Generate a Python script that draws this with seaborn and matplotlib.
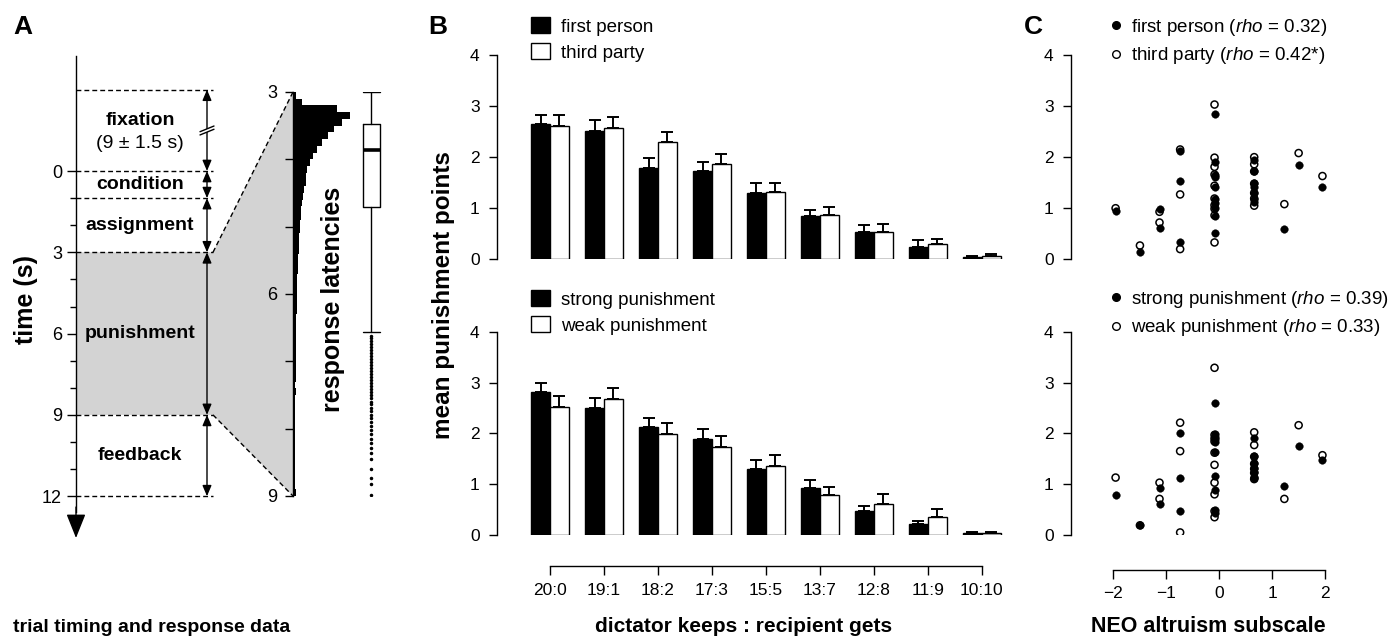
import numpy as np
import pandas as pd
import matplotlib
matplotlib.use("Agg")
import matplotlib.pyplot as plt
import seaborn as sns
from matplotlib.lines import Line2D
from matplotlib.patches import Patch, Polygon

# ─────────────────────────────────────────────
# DATA
# ─────────────────────────────────────────────
# Panel A: trial timeline (s)
PHASES      = ["fixation", "condition", "assignment", "punishment", "feedback"]
PHASE_EDGES = [-3, 0, 1, 3, 9, 12]
FIX_NOTE    = "(9 ± 1.5 s)"
TIME_TICKS  = [0, 3, 6, 9, 12]
TIME_MINOR  = [1, 2, 4, 5, 7, 8, 10, 11]

# Panel A: response latency histogram (0.1 s bins from 3 s)
LAT_START  = 3.0
LAT_BIN    = 0.1
LAT_COUNTS = [3, 9, 44, 57, 49, 41, 35, 29, 24, 20,
              17, 14, 13, 13, 11, 10, 9, 8, 8, 7,
              7, 6, 6, 6, 5, 5, 5, 4, 4, 4,
              4, 4, 4, 3, 3, 3, 3, 3, 3, 3,
              3, 3, 3, 2, 3, 2, 2, 2, 2, 2,
              2, 2, 2, 2, 2, 2, 2, 2, 2, 3]
LAT_TICKS       = [3, 4, 5, 6, 7, 8, 9]
LAT_TICK_LABELS = ["3", "", "", "6", "", "", "9"]

# Panel A: latency box plot
LAT_MEDIAN   = 3.86
LAT_Q1       = 3.48
LAT_Q3       = 4.71
LAT_WHISK_LO = 3.0
LAT_WHISK_HI = 6.57
LAT_OUTLIERS = [6.62, 6.66, 6.70, 6.75, 6.79, 6.83, 6.88, 6.92, 6.97, 7.01,
                7.06, 7.10, 7.14, 7.19, 7.23, 7.28, 7.32, 7.37, 7.41, 7.46,
                7.50, 7.55, 7.60, 7.64, 7.69, 7.74, 7.79, 7.84, 7.90, 7.96,
                8.02, 8.08, 8.15, 8.21, 8.28, 8.36, 8.45, 8.60, 8.74, 8.82, 8.98]

# Panel B: mean punishment points per split
SPLITS = ["20:0", "19:1", "18:2", "17:3", "15:5", "13:7", "12:8", "11:9", "10:10"]

B_TOP_LABELS = ["first person", "third party"]
FIRST_MEAN = [2.65, 2.51, 1.79, 1.72, 1.30, 0.84, 0.54, 0.25, 0.04]
FIRST_SEM  = [0.18, 0.22, 0.19, 0.19, 0.19, 0.12, 0.13, 0.12, 0.03]
THIRD_MEAN = [2.61, 2.58, 2.29, 1.87, 1.32, 0.87, 0.54, 0.29, 0.07]
THIRD_SEM  = [0.21, 0.21, 0.21, 0.20, 0.18, 0.16, 0.16, 0.10, 0.03]

B_BOT_LABELS = ["strong punishment", "weak punishment"]
STRONG_MEAN = [2.81, 2.49, 2.13, 1.89, 1.30, 0.93, 0.47, 0.21, 0.04]
STRONG_SEM  = [0.19, 0.21, 0.18, 0.20, 0.17, 0.15, 0.10, 0.07, 0.02]
WEAK_MEAN   = [2.52, 2.68, 1.99, 1.73, 1.36, 0.79, 0.61, 0.35, 0.04]
WEAK_SEM    = [0.22, 0.21, 0.21, 0.22, 0.21, 0.16, 0.19, 0.17, 0.02]

# Panel C: NEO altruism score per subject and punishment points
NEO = [-1.96, -1.50, -1.13, -1.13, -0.74, -0.74, -0.74,
       -0.09, -0.09, -0.09, -0.09, -0.09, -0.09, -0.09, -0.09, -0.09, -0.09,
       0.66, 0.66, 0.66, 0.66, 0.66, 0.66, 0.66,
       1.23, 1.50, 1.95]
C_FIRST  = [0.95, 0.14, 0.99, 0.61, 2.12, 1.53, 0.33,
            2.84, 1.91, 1.65, 1.62, 1.42, 1.18, 1.11, 1.01, 0.84, 0.52,
            1.94, 1.72, 1.50, 1.42, 1.29, 1.19, 1.13,
            0.59, 1.85, 1.41]
C_THIRD  = [1.00, 0.27, 0.93, 0.72, 2.15, 1.27, 0.20,
            3.03, 1.99, 1.81, 1.66, 1.44, 1.19, 1.06, 0.99, 0.86, 0.33,
            2.00, 1.86, 1.72, 1.48, 1.30, 1.19, 1.05,
            1.08, 2.08, 1.63]
C_STRONG = [0.79, 0.20, 0.92, 0.61, 2.01, 1.13, 0.47,
            2.60, 1.99, 1.93, 1.88, 1.82, 1.63, 1.16, 0.89, 0.49, 0.44,
            1.90, 1.55, 1.41, 1.31, 1.23, 1.15, 1.12,
            0.96, 1.76, 1.48]
C_WEAK   = [1.13, 0.19, 1.03, 0.71, 2.21, 1.65, 0.05,
            3.29, 1.97, 1.90, 1.84, 1.62, 1.38, 1.03, 0.80, 0.47, 0.35,
            2.02, 1.77, 1.54, 1.40, 1.30, 1.22, 1.10,
            0.71, 2.16, 1.57]
C_TOP_LABELS = [r"first person ($\mathit{rho}$ = 0.32)", r"third party ($\mathit{rho}$ = 0.42*)"]
C_BOT_LABELS = [r"strong punishment ($\mathit{rho}$ = 0.39)", r"weak punishment ($\mathit{rho}$ = 0.33)"]
C_TICKS = [-2, -1, 0, 1, 2]
Y_TICKS = [0, 1, 2, 3, 4]

# ─────────────────────────────────────────────
# STYLE
# ─────────────────────────────────────────────
sns.set_theme(style="ticks")
plt.rcParams["font.family"] = ["Liberation Sans", "DejaVu Sans"]
plt.rcParams["mathtext.fontset"] = "custom"
plt.rcParams["mathtext.rm"] = "Liberation Sans"
plt.rcParams["mathtext.it"] = "Liberation Sans:italic"
plt.rcParams["axes.linewidth"] = 1.0
plt.rcParams["axes.edgecolor"] = "black"
plt.rcParams["text.color"] = "black"
plt.rcParams["axes.labelcolor"] = "black"
plt.rcParams["xtick.color"] = "black"
plt.rcParams["ytick.color"] = "black"
plt.rcParams["xtick.labelcolor"] = "black"
plt.rcParams["ytick.labelcolor"] = "black"

W, H = 1396, 644
fig = plt.figure(figsize=(W / 100, H / 100), dpi=100, facecolor="white")


def px_rect(x0, y0, x1, y1):
    return [x0 / W, 1 - y1 / H, (x1 - x0) / W, (y1 - y0) / H]


TICK_FS = 12.5
LEG_FS = 13.5

# ─────────────────────────────────────────────
# PANEL A
# ─────────────────────────────────────────────
A_T0, A_PXS = 171.0, 27.1      # pixel row of t=0, pixels per second
AX_X, DASH_END, ARR_X = 76, 213, 207


def t_of(py):
    return (py - A_T0) / A_PXS


axA = fig.add_axes(px_rect(0, 40, 300, 560))
axA.set_xlim(0, 300)
axA.set_ylim(t_of(560), t_of(40))
axA.patch.set_visible(False)
for s in ["top", "right", "bottom"]:
    axA.spines[s].set_visible(False)
axA.spines["left"].set_position(("data", AX_X))
axA.spines["left"].set_bounds(t_of(56), 12.6)
axA.set_xticks([])
axA.set_yticks(TIME_TICKS)
axA.set_yticks(TIME_MINOR, minor=True)
axA.tick_params(axis="y", which="major", length=6.5, width=1, pad=3.5, labelsize=13)
axA.tick_params(axis="y", which="minor", length=4, width=1)
axA.annotate("", xy=(AX_X, t_of(538)), xytext=(AX_X, 12.4),
             arrowprops=dict(arrowstyle="-|>,head_length=0.75,head_width=0.3",
                             mutation_scale=20, color="black", lw=1,
                             shrinkA=0, shrinkB=0))

# phase boundaries and durations
axA.hlines(PHASE_EDGES, AX_X, DASH_END, colors="black",
           linestyles=(0, (3.5, 2.2)), lw=1.0, zorder=2)
for a, b in zip(PHASE_EDGES[:-1], PHASE_EDGES[1:]):
    axA.annotate("", xy=(ARR_X, a), xytext=(ARR_X, b),
                 arrowprops=dict(arrowstyle="<|-|>,head_length=0.4,head_width=0.17",
                                 mutation_scale=16, color="black", lw=1,
                                 shrinkA=0, shrinkB=0), zorder=3)

# axis break on the fixation arrow
tb = (PHASE_EDGES[0] + PHASE_EDGES[1]) / 2
axA.fill([200, 214, 214, 200], [tb + 0.17, tb - 0.04, tb - 0.16, tb + 0.05],
         color="white", zorder=4, lw=0)
axA.plot([200, 214], [tb + 0.17, tb - 0.04], color="black", lw=1, zorder=5)
axA.plot([200, 214], [tb + 0.05, tb - 0.16], color="black", lw=1, zorder=5)

LABEL_X = 140
for name, a, b in zip(PHASES, PHASE_EDGES[:-1], PHASE_EDGES[1:]):
    mid = (a + b) / 2
    off = -0.35 if name == "fixation" else 0
    axA.text(LABEL_X, mid + off, name, ha="center", va="center",
             fontsize=14, fontweight="bold")
axA.text(LABEL_X, (PHASE_EDGES[0] + PHASE_EDGES[1]) / 2 + 0.5, FIX_NOTE,
         ha="center", va="center", fontsize=14)

# latency histogram
H_T3, H_T9 = 92.0, 496.0
axH = fig.add_axes(px_rect(293, H_T3, 400, H_T9))
axH.set_xlim(0, 107)
axH.set_ylim(LAT_TICKS[-1], LAT_TICKS[0])
axH.patch.set_visible(False)
for s in ["top", "right", "bottom"]:
    axH.spines[s].set_visible(False)
axH.spines["left"].set_bounds(LAT_TICKS[0], LAT_TICKS[-1])
bin_lo = [LAT_START + i * LAT_BIN for i in range(len(LAT_COUNTS))]
axH.barh(bin_lo, LAT_COUNTS, height=LAT_BIN, align="edge", color="black", lw=0)
axH.set_xticks([])
axH.set_yticks(LAT_TICKS)
axH.set_yticklabels(LAT_TICK_LABELS)
axH.tick_params(axis="y", length=6, width=1, pad=5, labelsize=13)

box_stats = [dict(med=LAT_MEDIAN, q1=LAT_Q1, q3=LAT_Q3,
                  whislo=LAT_WHISK_LO, whishi=LAT_WHISK_HI, fliers=LAT_OUTLIERS)]
axH.bxp(box_stats, positions=[78], widths=17, capwidths=17, manage_ticks=False,
        boxprops=dict(lw=1.0, color="black"),
        whiskerprops=dict(lw=1.0, color="black", ls="-"),
        capprops=dict(lw=1.0, color="black"),
        medianprops=dict(lw=2.6, color="black"),
        flierprops=dict(marker="o", ms=1.5, mfc="black", mec="black", ls="none"))

# shaded punishment window projecting onto the latency axis
corner = axA.transData.inverted().transform(
    axH.transData.transform([(0, LAT_TICKS[0]), (0, LAT_TICKS[-1])]))
t_a, t_b = PHASE_EDGES[3], PHASE_EDGES[4]
shade = Polygon([(AX_X, t_a), (DASH_END, t_a), tuple(corner[0]),
                 tuple(corner[1]), (DASH_END, t_b), (AX_X, t_b)],
                closed=True, fc="#d3d3d3", ec="none", zorder=0)
axA.add_patch(shade)
for t_p, c in zip([t_a, t_b], corner):
    axA.plot([DASH_END, c[0]], [t_p, c[1]], color="black", lw=1.0,
             ls=(0, (3.5, 2.2)), zorder=2)

fig.text(26 / W, 1 - 299 / H, "time (s)", rotation=90, ha="center", va="center",
         fontsize=18, fontweight="bold")
fig.text(333 / W, 1 - 299 / H, "response latencies", rotation=90, ha="center",
         va="center", fontsize=18, fontweight="bold")

# ─────────────────────────────────────────────
# PANEL B
# ─────────────────────────────────────────────
B_XLIM = (-0.981, 8.52)


def r_axes(ax, ylo=0, yhi=4):
    ax.set_ylim(ylo, yhi)
    ax.set_yticks(Y_TICKS)
    for s in ["top", "right"]:
        ax.spines[s].set_visible(False)
    ax.spines["left"].set_bounds(Y_TICKS[0], Y_TICKS[-1])
    ax.tick_params(axis="y", length=6, width=1, pad=6.5, labelsize=TICK_FS)
    ax.set_xlabel("")
    ax.set_ylabel("")


def bar_panel(ax, labels, means, sems):
    df = pd.DataFrame({
        "split": SPLITS * 2,
        "cond": [labels[0]] * len(SPLITS) + [labels[1]] * len(SPLITS),
        "mean": means[0] + means[1],
    })
    sns.barplot(data=df, x="split", y="mean", hue="cond", order=SPLITS,
                hue_order=labels, palette=["black", "white"], saturation=1,
                width=0.7, edgecolor="black", linewidth=1.0, errorbar=None,
                legend=False, ax=ax)
    for cont, m, e in zip(ax.containers, means, sems):
        xs = [b.get_x() + b.get_width() / 2 for b in cont]
        ax.errorbar(xs, m, yerr=[np.zeros(len(m)), e], fmt="none",
                    ecolor="black", elinewidth=1.4, capsize=4, capthick=1.4,
                    zorder=3)
    ax.set_xlim(*B_XLIM)
    r_axes(ax)


def bar_legend(ax, labels, top_px):
    handles = [Patch(fc="black", ec="black", lw=1), Patch(fc="white", ec="black", lw=1)]
    ax.legend(handles, labels, loc="upper left",
              bbox_to_anchor=(531 / W, 1 - top_px / H), bbox_transform=fig.transFigure,
              frameon=False, fontsize=LEG_FS, handlelength=1.0, handleheight=0.95,
              handletextpad=0.6, labelspacing=0.4, borderpad=0, borderaxespad=0)


axB1 = fig.add_axes(px_rect(497, 55, 1010, 259.3))
bar_panel(axB1, B_TOP_LABELS, [FIRST_MEAN, THIRD_MEAN], [FIRST_SEM, THIRD_SEM])
axB1.spines["bottom"].set_visible(False)
axB1.tick_params(axis="x", bottom=False, labelbottom=False)
bar_legend(axB1, B_TOP_LABELS, 17)

axB2 = fig.add_axes(px_rect(497, 331.7, 1010, 535))
bar_panel(axB2, B_BOT_LABELS, [STRONG_MEAN, WEAK_MEAN], [STRONG_SEM, WEAK_SEM])
axB2.spines["bottom"].set_position(("outward", 22.3))
axB2.spines["bottom"].set_bounds(0, len(SPLITS) - 1)
axB2.tick_params(axis="x", length=6.5, width=1, pad=6, labelsize=TICK_FS)
bar_legend(axB2, B_BOT_LABELS, 290)

fig.text(444 / W, 1 - 295 / H, "mean punishment points", rotation=90,
         ha="center", va="center", fontsize=17.5, fontweight="bold")

# ─────────────────────────────────────────────
# PANEL C
# ─────────────────────────────────────────────
C_XLIM = (-2.803, 3.227)


def scatter_panel(ax, open_y, filled_y):
    sns.scatterplot(x=NEO, y=open_y, s=26, facecolor="none", edgecolor="black",
                    linewidth=1.1, ax=ax, zorder=2)
    sns.scatterplot(x=NEO, y=filled_y, s=30, color="black", edgecolor="black",
                    linewidth=0.3, ax=ax, zorder=3)
    ax.set_xlim(*C_XLIM)
    r_axes(ax)


def dot_legend(ax, labels, top_px):
    handles = [Line2D([], [], ls="", marker="o", ms=5.5, mfc="black", mec="black"),
               Line2D([], [], ls="", marker="o", ms=5.5, mfc="none", mec="black", mew=1)]
    ax.legend(handles, labels, loc="upper left",
              bbox_to_anchor=(1108 / W, 1 - top_px / H), bbox_transform=fig.transFigure,
              frameon=False, fontsize=LEG_FS, handlelength=0.8, handletextpad=0.45,
              labelspacing=0.4, borderpad=0, borderaxespad=0)


axC1 = fig.add_axes(px_rect(1071, 55, 1390, 259.3))
scatter_panel(axC1, C_THIRD, C_FIRST)
axC1.spines["bottom"].set_visible(False)
axC1.tick_params(axis="x", bottom=False, labelbottom=False)
dot_legend(axC1, C_TOP_LABELS, 17)

axC2 = fig.add_axes(px_rect(1071, 331.7, 1390, 535))
scatter_panel(axC2, C_WEAK, C_STRONG)
axC2.set_xticks(C_TICKS)
axC2.spines["bottom"].set_position(("outward", 25.2))
axC2.spines["bottom"].set_bounds(C_TICKS[0], C_TICKS[-1])
axC2.tick_params(axis="x", length=6.5, width=1, pad=5, labelsize=TICK_FS)
dot_legend(axC2, C_BOT_LABELS, 289)

# ─────────────────────────────────────────────
# PANEL LETTERS AND BOTTOM TITLES
# ─────────────────────────────────────────────
for letter, x in [("A", 23), ("B", 438), ("C", 1033)]:
    fig.text(x / W, 1 - 27 / H, letter, ha="center", va="center",
             fontsize=19, fontweight="bold")

for title, x, fs in [("trial timing and response data", 152, 14),
                     ("dictator keeps : recipient gets", 744, 15),
                     ("NEO altruism subscale", 1208, 15.5)]:
    fig.text(x / W, 1 - 627 / H, title, ha="center", va="center",
             fontsize=fs, fontweight="bold")

fig.savefig("out.png", dpi=100, facecolor="white")
